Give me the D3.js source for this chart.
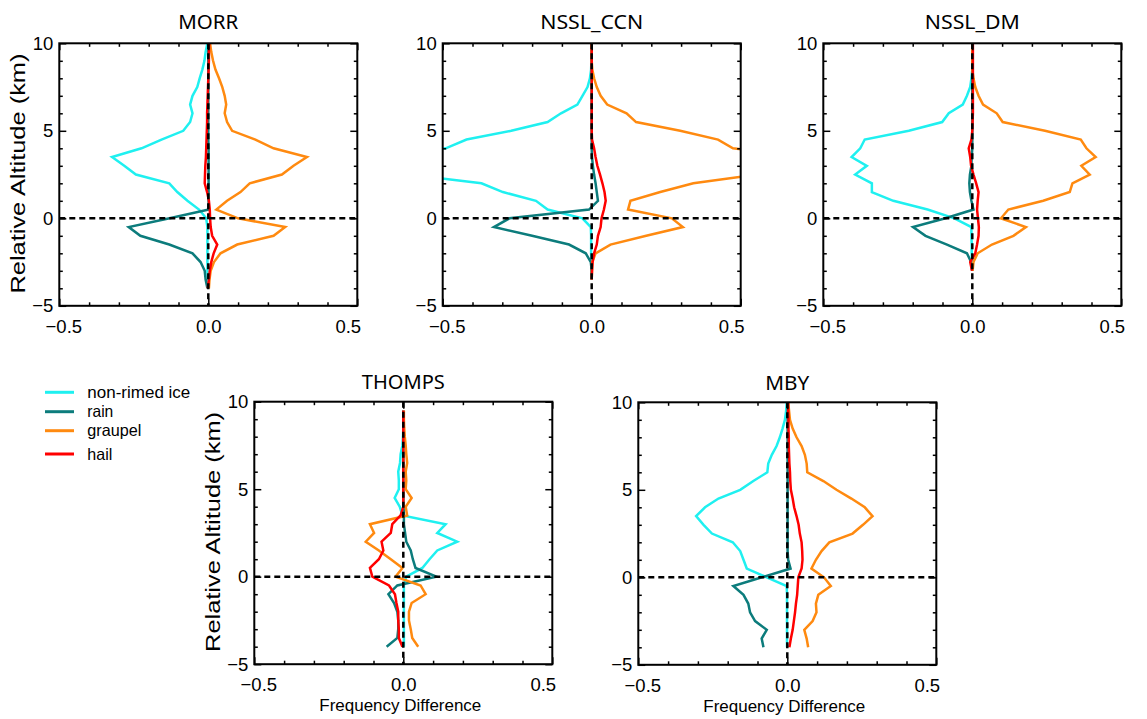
<!DOCTYPE html>
<html>
<head>
<meta charset="utf-8">
<script src="https://cdn.jsdelivr.net/npm/d3@7"></script>
<style>
  html, body { margin: 0; padding: 0; background: #fff; }
  svg { display: block; }
</style>
</head>
<body>
<svg id="chart" width="1147" height="719"></svg>
<script>
// ---------------- DATA ----------------
const altitude = [-4, -3.5, -3, -2.5, -2, -1.5, -1, -0.5, 0, 0.5, 1, 1.5, 2, 2.5, 3, 3.5, 4, 4.5, 5, 5.5, 6, 6.5, 7, 7.5, 8, 8.5, 9, 9.5, 10];

const seriesNames = ["non-rimed ice", "rain", "graupel", "hail"];
const seriesColors = ["#1ff0f0", "#0c7c7c", "#ff8a10", "#ff0000"];

const panelNames = ["MORR", "NSSL_CCN", "NSSL_DM", "THOMPS", "MBY"];

const xTicks = [-0.5, 0, 0.5];
const xMinorTicks = [-0.4, -0.3, -0.2, -0.1, 0.1, 0.2, 0.3, 0.4];
const yTicks = [-5, 0, 5, 10];
const yMinorTicks = [-4, -3, -2, -1, 1, 2, 3, 4, 6, 7, 8, 9];

// MORR
const morrIce     = [-0.002,-0.002,-0.003,-0.003,-0.003,-0.003,-0.003,-0.003,-0.007,-0.031,-0.07,-0.104,-0.131,-0.243,-0.282,-0.323,-0.224,-0.157,-0.084,-0.061,-0.053,-0.061,-0.053,-0.037,-0.029,-0.02,-0.013,-0.009,-0.003];
const morrRain    = [-0.003,-0.009,-0.012,-0.026,-0.053,-0.131,-0.228,-0.267,-0.13,0.002,0.001,0.001,0.001,0.001,0.001,0.001,0.001,0,0,0,0,0,0,0,0,0,0,0,0];
const morrGraupel = [0.002,0.004,0.008,0.019,0.041,0.097,0.219,0.258,0.1,0.027,0.063,0.108,0.139,0.247,0.286,0.331,0.219,0.158,0.08,0.063,0.055,0.06,0.055,0.047,0.036,0.024,0.016,0.01,0.006];
const morrHail    = [-0.002,0.002,0.005,0.01,0.018,0.03,0.013,0.008,0.006,0.005,0.002,-0.004,-0.012,-0.011,-0.01,-0.008,-0.007,-0.006,-0.005,-0.004,-0.004,-0.003,-0.002,-0.001,0,0.001,0.002,0.002,0.003];

// NSSL_CCN
const ccnIce     = [null,-0.001,-0.001,-0.001,-0.002,-0.002,-0.002,-0.003,-0.031,-0.148,-0.187,-0.298,-0.37,-0.61,-0.7,-0.72,-0.49,-0.42,-0.27,-0.148,-0.103,-0.048,-0.031,-0.014,-0.006,-0.002,-0.001,0,0];
const ccnRain    = [null,0,0,-0.003,-0.02,-0.076,-0.2,-0.328,-0.276,-0.009,0.021,0.017,0.013,0.008,0.004,0.001,0,0,0,0,0,0,0,0,0,0,0,0,0];
const ccnGraupel = [null,0,0.001,0.002,0.013,0.063,0.183,0.306,0.269,0.122,0.13,0.23,0.341,0.556,0.7,0.72,0.474,0.424,0.297,0.149,0.117,0.052,0.03,0.017,0.008,0.002,0,0,0];
const ccnHail    = [null,0,0.001,0.003,0.008,0.017,0.021,0.03,0.033,0.041,0.047,0.043,0.036,0.028,0.019,0.013,0.008,0.001,0,0,0,0,0,0,0,0,0,0,0];

// NSSL_DM
const dmIce     = [null,null,-0.001,-0.002,-0.002,-0.002,-0.003,-0.003,-0.06,-0.15,-0.265,-0.337,-0.337,-0.393,-0.354,-0.405,-0.376,-0.361,-0.213,-0.101,-0.079,-0.032,-0.018,-0.007,-0.003,0,0,0,0];
const dmRain    = [null,null,0,-0.004,-0.018,-0.085,-0.157,-0.199,-0.09,0.004,-0.003,-0.008,-0.01,-0.008,-0.003,-0.002,0,0,0,0,0,0,0,0,0,0,0,0,0];
const dmGraupel = [null,null,0.001,0.004,0.018,0.066,0.138,0.18,0.096,0.121,0.238,0.327,0.336,0.394,0.366,0.414,0.383,0.364,0.244,0.102,0.082,0.036,0.021,0.01,0.004,0,0,0,0];
const dmHail    = [null,null,-0.001,-0.007,0.01,0.016,0.021,0.022,0.019,0.016,0.018,0.021,0.013,0.004,-0.004,-0.007,-0.012,-0.003,0,0.001,0.002,0.002,0.002,0.002,0.002,0.002,0.002,0.002,0.002];

// THOMPS
const thIce     = [0.002,0.002,0.002,0.002,0.002,0.002,0.002,0.002,0.01,0.064,0.088,0.114,0.181,0.114,0.142,-0.003,-0.012,-0.029,-0.015,-0.015,-0.017,-0.011,-0.009,-0.003,-0.001,0,0,0,null];
const thRain    = [-0.056,-0.02,-0.017,-0.017,-0.02,-0.031,-0.05,-0.02,0.111,0.041,0.032,0.025,0.01,0.006,0.002,0.002,0.001,0,0,0,0,0,0,0,0,0,0,0,null];
const thGraupel = [0.05,0.03,0.025,0.019,0.019,0.028,0.075,0.058,-0.026,-0.003,-0.042,-0.082,-0.126,-0.098,-0.112,0.013,0.008,0.028,0.008,0.01,0.008,0.013,0.01,0.008,0.005,0.003,0.002,0.002,null];
const thHail    = [-0.003,-0.015,-0.015,-0.017,-0.017,-0.023,-0.028,-0.048,-0.104,-0.112,-0.082,-0.067,-0.073,-0.042,-0.037,-0.009,0,0,0,0,0,0,0,0,0,0,0,0,null];

// MBY
const mbyIce     = [-0.001,-0.001,-0.001,-0.001,-0.001,-0.001,-0.001,-0.002,-0.069,-0.136,-0.147,-0.158,-0.183,-0.253,-0.281,-0.306,-0.276,-0.231,-0.158,-0.114,-0.067,-0.064,-0.052,-0.036,-0.025,-0.016,-0.008,-0.004,-0.002];
const mbyRain    = [-0.08,-0.086,-0.069,-0.108,-0.125,-0.131,-0.147,-0.181,-0.085,0.011,0.003,0.001,0.001,0.001,0.001,0.001,0.001,0.001,0.001,0.001,0.001,0.001,0.001,0.001,0.001,0.001,0.001,0.001,0.001];
const mbyGraupel = [0.07,0.065,0.057,0.085,0.098,0.096,0.104,0.146,0.123,0.081,0.096,0.115,0.141,0.219,0.254,0.286,0.26,0.215,0.165,0.121,0.067,0.065,0.059,0.048,0.031,0.018,0.009,0.006,0.003];
const mbyHail    = [0.007,0.012,0.018,0.022,0.026,0.029,0.033,0.035,0.037,0.048,0.051,0.05,0.048,0.042,0.038,0.031,0.023,0.018,0.012,0.01,0.009,0.007,0.006,0.005,0.005,0.004,0.004,0.003,0.003];

const panelSeries = [
  [morrIce, morrRain, morrGraupel, morrHail],
  [ccnIce, ccnRain, ccnGraupel, ccnHail],
  [dmIce, dmRain, dmGraupel, dmHail],
  [thIce, thRain, thGraupel, thHail],
  [mbyIce, mbyRain, mbyGraupel, mbyHail]
];

// ---------------- LAYOUT ----------------
const panelPos = [
  {x: 59.3, y: 43.3, ylab: true,  xlab: false},
  {x: 442.7, y: 43.3, ylab: false, xlab: false},
  {x: 823.3, y: 43.3, ylab: false, xlab: false},
  {x: 254.3, y: 401.7, ylab: true, xlab: true},
  {x: 638.3, y: 402.3, ylab: false, xlab: true}
];
const W = 298, H = 262.5;
const titleLen = {"MORR": 60, "NSSL_CCN": 103, "NSSL_DM": 95, "THOMPS": 83, "MBY": 44};

const svg = d3.select("#chart");
const x = d3.scaleLinear().domain([-0.5, 0.5]).range([0, W]);
const y = d3.scaleLinear().domain([-5, 10]).range([H, 0]);

const tickFont = "'Liberation Sans', Arial, Helvetica, sans-serif";
const myriadFont = "'Noto Sans', 'Open Sans', sans-serif";

panelNames.forEach((name, pi) => {
  const p = panelPos[pi];
  const g = svg.append("g").attr("transform", `translate(${p.x},${p.y})`);

  const clipId = "clip" + pi;
  g.append("clipPath").attr("id", clipId)
    .append("rect").attr("x", 0).attr("y", 0).attr("width", W).attr("height", H);

  // data lines
  const lines = g.append("g").attr("clip-path", `url(#${clipId})`);
  panelSeries[pi].forEach((vals, si) => {
    const pts = altitude.map((a, i) => ({a: a, v: vals[i]}));
    const line = d3.line()
      .defined(d => d.v !== null && d.v !== undefined)
      .x(d => x(d.v)).y(d => y(d.a));
    lines.append("path").datum(pts)
      .attr("d", line)
      .attr("fill", "none")
      .attr("stroke", seriesColors[si])
      .attr("stroke-width", 2.5)
      .attr("stroke-linejoin", "miter");
  });

  // dashed zero lines
  lines.append("line")
    .attr("x1", x(0)).attr("x2", x(0)).attr("y1", y(10)).attr("y2", y(-5))
    .attr("stroke", "#000").attr("stroke-width", 2.5).attr("stroke-dasharray", "6,4");
  lines.append("line")
    .attr("x1", 0).attr("x2", W).attr("y1", y(0)).attr("y2", y(0))
    .attr("stroke", "#000").attr("stroke-width", 2.5).attr("stroke-dasharray", "6,4");

  // ticks (inward) on all four sides
  const major = 7, minor = 3.5;
  const axes = [
    {ax: d3.axisBottom(x), t: `translate(0,${H})`, vals: xTicks, minorVals: xMinorTicks},
    {ax: d3.axisTop(x), t: `translate(0,0)`, vals: xTicks, minorVals: xMinorTicks},
    {ax: d3.axisLeft(y), t: `translate(0,0)`, vals: yTicks, minorVals: yMinorTicks},
    {ax: d3.axisRight(y), t: `translate(${W},0)`, vals: yTicks, minorVals: yMinorTicks}
  ];
  axes.forEach(a => {
    const gMaj = g.append("g").attr("transform", a.t)
      .call(a.ax.tickValues(a.vals).tickSize(-major).tickFormat(""));
    gMaj.select(".domain").remove();
    gMaj.selectAll("line").attr("stroke", "#000").attr("stroke-width", 1.5);
    const gMin = g.append("g").attr("transform", a.t)
      .call(a.ax.tickValues(a.minorVals).tickSize(-minor).tickFormat(""));
    gMin.select(".domain").remove();
    gMin.selectAll("line").attr("stroke", "#000").attr("stroke-width", 1.5);
  });

  // tick labels via axes
  const xLab = g.append("g").attr("transform", `translate(0,${H})`)
    .call(d3.axisBottom(x).tickValues(xTicks).tickSize(0).tickPadding(14).tickFormat(d3.format(".1f")));
  xLab.select(".domain").remove();
  xLab.selectAll("text")
    .attr("font-family", tickFont).attr("font-size", 18.5).attr("fill", "#000")
    .attr("dx", d => d === 0.5 ? -9.5 : (d === -0.5 ? 4 : 0));

  const yLab = g.append("g")
    .call(d3.axisLeft(y).tickValues(yTicks).tickSize(0).tickPadding(6).tickFormat(d3.format("d")));
  yLab.select(".domain").remove();
  yLab.selectAll("text")
    .attr("font-family", tickFont).attr("font-size", 18.5).attr("fill", "#000");

  // frame
  g.append("rect").attr("x", 0).attr("y", 0).attr("width", W).attr("height", H)
    .attr("fill", "none").attr("stroke", "#000").attr("stroke-width", 2);

  // title
  g.append("text")
    .attr("x", W / 2).attr("y", pi < 3 ? -14 : -12.5)
    .attr("text-anchor", "middle")
    .attr("font-family", myriadFont).attr("font-size", 20)
    .attr("textLength", titleLen[name]).attr("lengthAdjust", "spacingAndGlyphs")
    .text(name);

  if (p.ylab) {
    g.append("text")
      .attr("transform", `translate(-34,${H / 2 - 1}) rotate(-90)`)
      .attr("text-anchor", "middle")
      .attr("font-family", tickFont).attr("font-size", 21)
      .attr("textLength", 240).attr("lengthAdjust", "spacingAndGlyphs")
      .text("Relative Altitude (km)");
  }
  if (p.xlab) {
    g.append("text")
      .attr("x", W / 2 - 3).attr("y", H + 47)
      .attr("text-anchor", "middle")
      .attr("font-family", tickFont).attr("font-size", 17)
      .attr("textLength", 162).attr("lengthAdjust", "spacingAndGlyphs")
      .text("Frequency Difference");
  }
});

// ---------------- LEGEND ----------------
const legendY = [392.3, 411.7, 430.7, 454];
const legendLen = [103, 26, 54, 25];
const leg = svg.append("g");
seriesNames.forEach((n, i) => {
  leg.append("line")
    .attr("x1", 45).attr("x2", 74).attr("y1", legendY[i]).attr("y2", legendY[i])
    .attr("stroke", seriesColors[i]).attr("stroke-width", 3);
  leg.append("text")
    .attr("x", 87.3).attr("y", legendY[i] + 5.5)
    .attr("font-family", tickFont).attr("font-size", 16.5)
    .attr("textLength", legendLen[i]).attr("lengthAdjust", "spacingAndGlyphs")
    .text(n);
});
</script>
</body>
</html>
